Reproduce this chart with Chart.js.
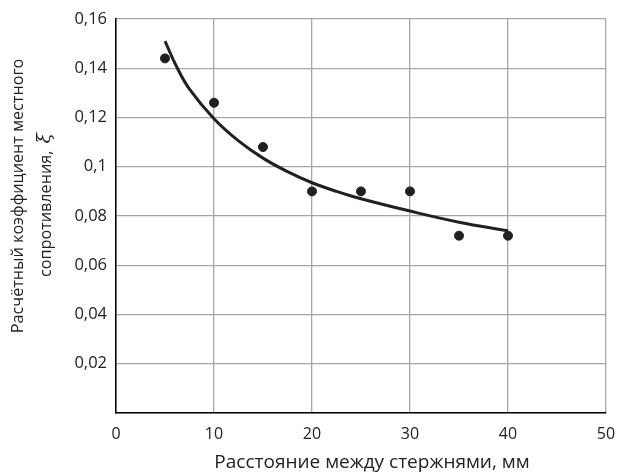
<!DOCTYPE html>
<html>
<head>
<meta charset="utf-8">
<script src="https://cdn.jsdelivr.net/npm/chart.js@4/dist/chart.umd.min.js"></script>
<style>
html,body{margin:0;padding:0;background:#fff;}
#wrap{width:619px;height:475px;position:relative;}
</style>
</head>
<body>
<div id="wrap"><canvas id="c" width="619" height="475"></canvas></div>
<script>
// Measured points
const pointX = [5, 10, 15, 20, 25, 30, 35, 40];
const pointY = [0.144, 0.126, 0.108, 0.09, 0.09, 0.09, 0.072, 0.072];
// Trend curve
const curveX = [5, 6.2, 7.5, 10, 12.5, 15, 17.5, 20, 22.5, 25, 30, 35, 40];
const curveY = [0.151, 0.1405, 0.1315, 0.1195, 0.1105, 0.1035, 0.098, 0.0935, 0.090, 0.087, 0.082, 0.0775, 0.074];
const xTicks = [0, 10, 20, 30, 40, 50];
const yTicks = [0, 0.02, 0.04, 0.06, 0.08, 0.1, 0.12, 0.14, 0.16];
const xTitle = 'Расстояние между стержнями, мм';
const yTitle1 = 'Расчётный коэффициент местного';
const yTitle2 = 'сопротивления, ';
const yTitleSymbol = 'ξ';

const FONT = "'Open Sans', sans-serif";
const ink = '#231f20';
const textColor = '#222';

const titlePlugin = {
  id: 'axisTitles',
  afterDraw(chart) {
    const ctx = chart.ctx;
    const ca = chart.chartArea;
    ctx.save();
    ctx.fillStyle = textColor;
    ctx.textBaseline = 'middle';
    ctx.textAlign = 'center';
    ctx.font = "19px " + FONT;
    ctx.fillText(xTitle, (ca.left + ca.right) / 2 + 11, 463);

    // first line of y title
    ctx.font = "16.2px " + FONT;
    ctx.save();
    ctx.translate(18, 196);
    ctx.rotate(-Math.PI / 2);
    ctx.fillText(yTitle1, 0, 0);
    ctx.restore();

    // second line: text + italic symbol
    const f1 = "16.2px " + FONT;
    const f2 = "italic 19px 'DejaVu Serif', serif";
    ctx.font = f1; const w1 = ctx.measureText(yTitle2).width;
    ctx.font = f2; const w2 = ctx.measureText(yTitleSymbol).width;
    const total = w1 + w2 + 3;
    ctx.save();
    ctx.translate(46.5, 205);
    ctx.rotate(-Math.PI / 2);
    ctx.textAlign = 'left';
    ctx.font = f1;
    ctx.fillText(yTitle2, -total / 2, 0);
    ctx.font = f2;
    ctx.fillText(yTitleSymbol, -total / 2 + w1 + 3, -1);
    ctx.restore();
    ctx.restore();
  }
};

new Chart(document.getElementById('c'), {
  type: 'scatter',
  data: {
    datasets: [
      {
        type: 'line',
        data: curveX.map((x, i) => ({x, y: curveY[i]})),
        borderColor: ink,
        borderWidth: 3,
        pointRadius: 0,
        fill: false,
        tension: 0.4,
        order: 2
      },
      {
        data: pointX.map((x, i) => ({x, y: pointY[i]})),
        backgroundColor: ink,
        borderColor: ink,
        pointRadius: 4.5,
        pointHoverRadius: 4.5,
        order: 1
      }
    ]
  },
  plugins: [titlePlugin],
  options: {
    responsive: false,
    animation: false,
    events: [],
    layout: {padding: {top: 19, right: 13, left: 0, bottom: 0}},
    plugins: {legend: {display: false}, tooltip: {enabled: false}},
    scales: {
      x: {
        type: 'linear', min: 0, max: 50,
        afterBuildTicks: s => { s.ticks = xTicks.map(v => ({value: v})); },
        afterFit: s => { s.height = 62; s.paddingLeft = 0; s.paddingRight = 0; },
        grid: {color: '#a6a6a6', lineWidth: 1.3, drawTicks: false},
        border: {color: '#000', width: 1.5},
        ticks: {padding: 12, color: textColor, font: {family: FONT, size: 16}, callback: v => String(v)},
        title: {display: false}
      },
      y: {
        type: 'linear', min: 0, max: 0.16,
        afterBuildTicks: s => { s.ticks = yTicks.map(v => ({value: v})); },
        afterFit: s => { s.width = 116; s.paddingTop = 0; s.paddingBottom = 0; },
        grid: {color: '#a6a6a6', lineWidth: 1.3, drawTicks: false},
        border: {color: '#000', width: 1.5},
        ticks: {padding: 9, color: textColor, font: {family: FONT, size: 16.5},
          callback: v => v === 0 ? '' : String(Math.round(v * 100) / 100).replace('.', ',')},
        title: {display: false}
      }
    }
  }
});
</script>
</body>
</html>
